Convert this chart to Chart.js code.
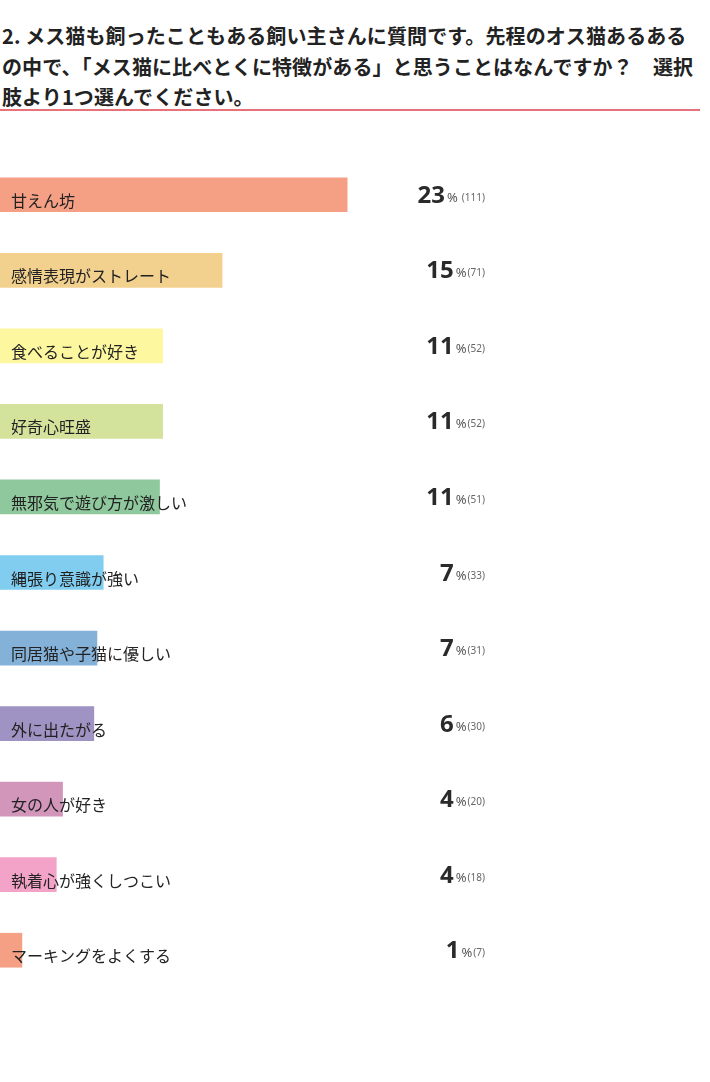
<!DOCTYPE html>
<html lang="ja">
<head>
<meta charset="utf-8">
<script src="https://cdn.jsdelivr.net/npm/chart.js@4"></script>
<style>
  html, body { margin: 0; padding: 0; background: #fff; }
  body { width: 710px; height: 1082px; position: relative; overflow: hidden; font-family: "Noto Sans CJK JP", "Noto Sans", sans-serif; }
  #title {
    position: absolute; left: 2px; top: 21px; margin: 0;
    font-size: 20px; font-weight: bold; line-height: 30.5px; color: #222;
    white-space: nowrap; letter-spacing: 0.1px;
  }
  #rule { position: absolute; left: 0; top: 109px; width: 700px; height: 2px; background: #e8727a; }
  #wrap { position: absolute; left: 0; top: 157px; width: 710px; height: 831px; }
</style>
</head>
<body>
<h1 id="title">2. メス猫も飼ったこともある飼い主さんに質問です。先程のオス猫あるある<br>の中で、「メス猫に比べとくに特徴がある」と思うことはなんですか？　選択<br>肢より1つ選んでください。</h1>
<div id="rule"></div>
<div id="wrap"><canvas id="chart"></canvas></div>
<script>
const categories = [
  '甘えん坊',
  '感情表現がストレート',
  '食べることが好き',
  '好奇心旺盛',
  '無邪気で遊び方が激しい',
  '縄張り意識が強い',
  '同居猫や子猫に優しい',
  '外に出たがる',
  '女の人が好き',
  '執着心が強くしつこい',
  'マーキングをよくする'
];
const counts = [111, 71, 52, 52, 51, 33, 31, 30, 20, 18, 7];
const percents = [23, 15, 11, 11, 11, 7, 7, 6, 4, 4, 1];
const colors = [
  '#f5a085', '#f2d08e', '#fdf8a0', '#d3e39c', '#8fc89c', '#80cdf0',
  '#84b1d8', '#9e93c3', '#d296bb', '#f4a3c8', '#f5a085'
];

const labelPlugin = {
  id: 'barLabels',
  afterDatasetsDraw(chart) {
    const ctx = chart.ctx;
    const meta = chart.getDatasetMeta(0);
    ctx.save();
    meta.data.forEach((bar, i) => {
      const y = bar.y;
      // category label inside the bar
      ctx.font = '16px "Noto Sans CJK JP", sans-serif';
      ctx.fillStyle = '#222';
      ctx.textAlign = 'left';
      ctx.textBaseline = 'middle';
      ctx.fillText(categories[i], 11, y + 6);

      // value: big number, small % and (count), right aligned
      const right = 485;
      const cnt = '(' + counts[i] + ')';
      ctx.font = '10px "Noto Sans", sans-serif';
      const wCnt = ctx.measureText(cnt).width;
      ctx.font = '13px "Noto Sans", sans-serif';
      const wPct = ctx.measureText('%').width;
      ctx.font = 'bold 24px "Noto Sans", sans-serif';
      const num = String(percents[i]);
      const wNum = ctx.measureText(num).width;
      const gap = counts[i] >= 100 ? 4 : 1;
      let x = right - wCnt - gap - wPct - 2 - wNum;
      ctx.fillStyle = '#2a2a2a';
      ctx.textAlign = 'left';
      ctx.textBaseline = 'alphabetic';
      ctx.fillText(num, x, y + 8);
      x += wNum + 2;
      ctx.font = '13px "Noto Sans", sans-serif';
      ctx.fillStyle = '#555';
      ctx.fillText('%', x, y + 7);
      x += wPct + gap;
      ctx.font = '10px "Noto Sans", sans-serif';
      ctx.fillStyle = '#666';
      ctx.fillText(cnt, x, y + 6);
    });
    ctx.restore();
  }
};

new Chart(document.getElementById('chart'), {
  type: 'bar',
  data: {
    labels: categories,
    datasets: [{ data: counts, backgroundColor: colors, borderWidth: 0, barThickness: 34 }]
  },
  options: {
    indexAxis: 'y',
    responsive: true,
    maintainAspectRatio: false,
    animation: false,
    layout: { padding: 0 },
    plugins: { legend: { display: false }, tooltip: { enabled: false } },
    scales: {
      x: { min: 0, max: 227, display: false },
      y: { display: false }
    }
  },
  plugins: [labelPlugin]
});
</script>
</body>
</html>
